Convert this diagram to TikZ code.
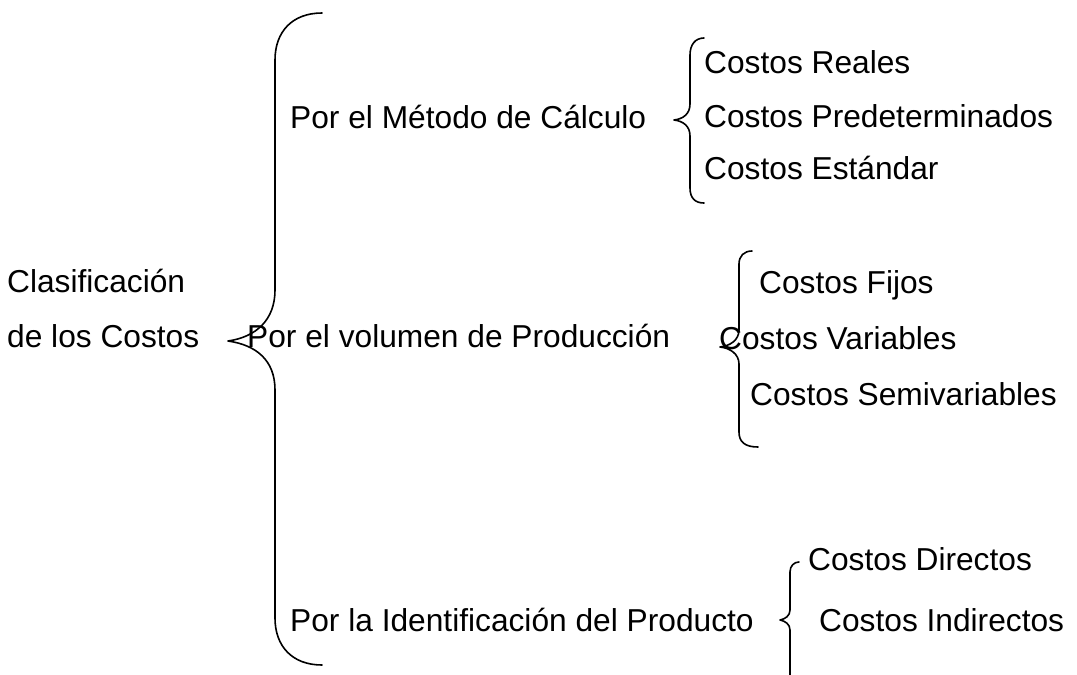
\documentclass[tikz,border=0pt]{standalone}
\usepackage{fontspec}
\setmainfont{Liberation Sans}
\begin{document}
\begin{tikzpicture}[x=1pt,y=-1pt,
  lbl/.style={anchor=base west,inner sep=0pt,font=\fontsize{31.7}{38}\selectfont},
  brace/.style={draw=black,line width=1.6pt,line join=round,line cap=round}]
\useasboundingbox (0,0) rectangle (1077,675);
% texts
\node[lbl] (clas) at (7,292) {Clasificación};
\node[lbl] (delos) at (7,347) {de los Costos};
\node[lbl] (metodo) at (290,128) {Por el Método de Cálculo};
\node[lbl] (reales) at (704,73) {Costos Reales};
\node[lbl] (pred) at (704,127) {Costos Predeterminados};
\node[lbl] (estandar) at (704,179) {Costos Estándar};
\node[lbl] (volumen) at (247,347) {Por el volumen de Producción};
\node[lbl] (fijos) at (759,293) {Costos Fijos};
\node[lbl] (variables) at (719,349) {Costos Variables};
\node[lbl] (semi) at (750,405) {Costos Semivariables};
\node[lbl] (ident) at (290,631) {Por la Identificación del Producto};
\node[lbl] (directos) at (808,570) {Costos Directos};
\node[lbl] (indirectos) at (819,631) {Costos Indirectos};
% big brace
\draw[brace] (322,13) .. controls (292,13) and (275,32) .. (275,60) -- (275,290)
  .. controls (275,320) and (256,337) .. (228,341)
  .. controls (256,345) and (275,360) .. (275,390) -- (275,618)
  .. controls (275,646) and (292,665) .. (322,665);
% brace 1
\draw[brace] (704,38) .. controls (695,38) and (690,45) .. (690,55) -- (690,104)
  .. controls (690,114) and (683,119) .. (674,120)
  .. controls (683,121) and (690,126) .. (690,136) -- (690,188)
  .. controls (690,198) and (695,203) .. (704,203);
% brace 2
\draw[brace] (752,251) .. controls (744,251) and (739,256) .. (739,264) -- (739,330)
  .. controls (739,340) and (730,346) .. (720,347)
  .. controls (730,348) and (739,354) .. (739,364) -- (739,432)
  .. controls (739,442) and (745,447) .. (758,447);
% brace 3
\draw[brace] (799,562) .. controls (794,562) and (790,566) .. (790,572) -- (790,610)
  .. controls (790,616) and (785,619) .. (780,620)
  .. controls (785,621) and (790,624) .. (790,630) -- (790,676);
\end{tikzpicture}
\end{document}
